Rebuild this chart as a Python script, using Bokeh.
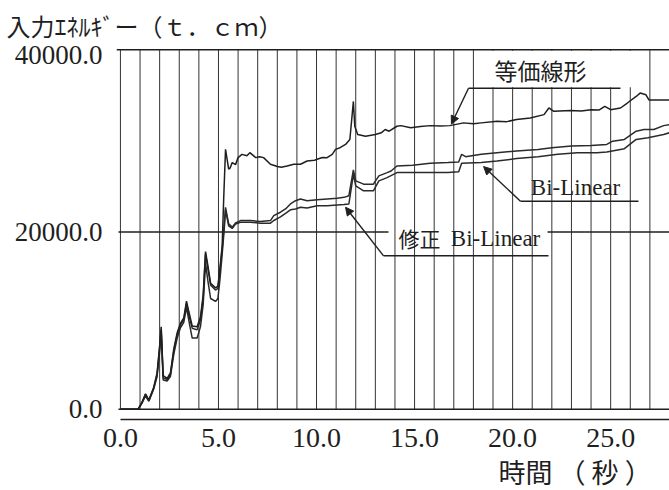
from bokeh.plotting import figure
from bokeh.models import Label, Arrow, NormalHead, FixedTicker, NumeralTickFormatter, Title
from bokeh.embed import file_html
from bokeh.resources import INLINE

# ---------------- data ----------------
time_eq = [0.0, 0.9, 1.1, 1.28, 1.45, 1.7, 1.87, 2.0, 2.08, 2.18, 2.38, 2.55, 2.72, 2.89, 3.06, 3.23,
           3.37, 3.49, 3.66, 3.91, 4.08, 4.22, 4.34, 4.46, 4.6, 4.85, 4.97, 5.07, 5.19, 5.27, 5.36,
           5.52, 5.6, 5.7, 5.87, 6.0, 6.2, 6.45, 6.6, 6.9, 7.1, 7.3, 7.65, 8.0, 8.2, 8.5, 8.84, 9.18,
           9.52, 9.9, 10.03, 10.3, 10.54, 10.8, 10.97, 11.2, 11.48, 11.7, 11.88, 11.95, 12.1, 12.5,
           13.0, 13.3, 13.5, 13.7, 14.1, 14.3, 14.8, 15.3, 15.8, 16.3, 16.8, 17.5, 18.0, 18.4, 19.2,
           19.7, 20.2, 20.9, 21.6, 21.85, 22.1, 22.96, 23.5, 24.0, 24.4, 24.7, 25.0, 25.5, 25.85,
           26.3, 26.5, 26.8, 26.95, 27.5, 28.0]
energy_eq = [0, 0, 800, 1750, 1050, 2500, 4100, 7200, 9300, 3800, 3500, 4100, 6800, 8600, 9700, 10300,
             12200, 11000, 9400, 9300, 10400, 12900, 17800, 16200, 14200, 13700, 13900, 15800, 18500,
             24000, 29320, 27080, 27240, 27830, 27600, 28390, 28760, 28600, 28950, 28390, 28500, 28390,
             27640, 27380, 27300, 27450, 27640, 27640, 28010, 28100, 28200, 28400, 28390, 28760, 29320,
             29510, 29880, 30440, 34730, 31930, 31000, 30810, 31000, 31190, 31560, 31370, 31930, 32000,
             31750, 31900, 32000, 31950, 32000, 32310, 32200, 32310, 32490, 32450, 32680, 32870, 33240,
             33990, 33610, 33720, 33650, 33800, 33750, 34170, 33800, 33990, 34550, 35290, 35670, 35480,
             34900, 34900, 34900]

time_bl = [0.0, 0.9, 1.1, 1.28, 1.45, 1.7, 1.87, 2.0, 2.08, 2.18, 2.38, 2.55, 2.72, 2.89, 3.06, 3.23,
           3.37, 3.49, 3.66, 3.91, 4.08, 4.22, 4.34, 4.46, 4.6, 4.85, 4.97, 5.07, 5.19,
           5.3, 5.36, 5.52, 5.7, 5.87, 6.12, 6.63, 7.14, 7.65, 7.82, 8.16, 8.42, 8.67, 8.93, 9.18,
           9.52, 10.03, 10.54, 11.05, 11.4, 11.65, 11.88, 12.0, 12.4, 12.9, 13.18, 13.6, 13.8, 14.1,
           14.9, 15.8, 16.7, 17.25, 17.4, 17.6, 18.4, 19.2, 20.2, 21.3, 22.0, 23.0, 24.0, 24.8, 25.1,
           25.7, 26.3, 26.7, 27.2, 27.7, 28.0]
energy_bl = [0, 0, 750, 1680, 975, 2430, 3920, 6900, 8960, 3550, 3360, 3920, 6540, 8400, 9520, 10080,
             11950, 10640, 9150, 8960, 10080, 12510, 17550, 15870, 14000, 13450, 13630, 15540, 18100,
             21000, 22790, 20920, 20550, 21030, 21290, 21290, 21180, 21290, 21850, 22230, 22600, 23160,
             23530, 23720, 23530, 23640, 23720, 23800, 23910, 24090, 27000, 25770, 25400, 25400, 26330,
             26700, 26880, 27450, 27530, 27750, 27830, 27900, 28760, 28500, 28760, 28950, 29130, 29320,
             29510, 29690, 29770, 29880, 30250, 30440, 31370, 31560, 31560, 32000, 32100]

time_mbl = [0.0, 0.9, 1.1, 1.28, 1.45, 1.7, 1.87, 2.0, 2.08, 2.18, 2.38, 2.55, 2.72, 2.89, 3.06, 3.23,
            3.37, 3.49, 3.66, 3.91, 4.08, 4.22, 4.34, 4.46, 4.6, 4.85, 4.97, 5.07, 5.19,
            5.3, 5.36, 5.52, 5.7, 5.87, 6.12, 6.63, 7.14, 7.65, 7.82, 8.16, 8.42, 8.67, 8.93, 9.18,
            9.52, 10.03, 10.54, 11.05, 11.4, 11.65, 11.88, 12.0, 12.4, 12.9, 13.18, 13.6, 14.1, 14.9,
            15.8, 16.7, 17.25, 17.4, 18.4, 19.2, 20.2, 21.3, 22.3, 23.3, 24.3, 24.8, 25.7, 26.3, 26.9,
            27.7, 28.0]
energy_mbl = [0, 0, 700, 1500, 900, 2300, 3700, 6500, 8600, 3300, 3200, 3700, 6200, 8000, 9200, 9800,
              11500, 10000, 8030, 8030, 9300, 11800, 16500, 14500, 12500, 12170, 12500, 14500, 17500,
              20500, 22500, 20700, 20400, 20900, 21100, 21100, 21000, 21000, 21300, 21700, 22100, 22500,
              22600, 22790, 22700, 22970, 22970, 23050, 23100, 23160, 26500, 25210, 24650, 24650, 25770,
              26140, 26700, 26700, 26700, 26700, 26800, 27750, 27830, 28010, 28280, 28500, 28760, 28950,
              28950, 29020, 29400, 30440, 30630, 31000, 31200]

grid_seconds = list(range(0, 29))
x_ticks = [0, 5, 10, 15, 20, 25]
y_ticks = [0, 20000, 40000]
y_top_line = 40550

title_text = "入力ｴﾈﾙｷﾞー（ｔ．ｃｍ）"
x_title_text = "時間 （ 秒 ）"
label_eq = "等価線形"
label_bl = "Bi-Linear"
label_mod = "修正"

INK = "#1f1f1f"
GRID = "#333333"

# ---------------- figure ----------------
p = figure(width=669, height=490, x_range=(-0.2, 28.0), y_range=(-1150, 40700),
           output_backend="svg", toolbar_location=None,
           min_border_left=116, min_border_right=0, min_border_top=48, min_border_bottom=68)
p.outline_line_color = None
p.background_fill_color = "white"
p.border_fill_color = "white"
p.xgrid.visible = False
p.ygrid.visible = False

p.title.text = title_text
p.title.align = "left"
p.title.offset = -110
p.title.text_font = "Noto Sans CJK JP"
p.title.text_font_size = "24px"
p.title.text_font_style = "normal"
p.title.text_color = INK
p.title.standoff = 11

# axes
xa = p.xaxis[0]
xa.ticker = FixedTicker(ticks=x_ticks)
xa.formatter = NumeralTickFormatter(format="0.0")
xa.bounds = (0, 28)
xa.axis_line_color = INK
xa.axis_line_width = 1.5
xa.major_tick_line_color = None
xa.minor_tick_line_color = None
xa.major_label_text_font = "Liberation Serif"
xa.major_label_text_font_size = "28px"
xa.major_label_text_color = INK
xa.major_label_standoff = 3

ya = p.yaxis[0]
ya.ticker = FixedTicker(ticks=y_ticks)
ya.formatter = NumeralTickFormatter(format="0.0")
ya.axis_line_color = None
ya.major_tick_line_color = None
ya.minor_tick_line_color = None
ya.major_label_text_font = "Liberation Serif"
ya.major_label_text_font_size = "27px"
ya.major_label_text_color = INK
ya.major_label_standoff = 8

xt = Title(text=x_title_text, align="left", offset=382, text_font="Noto Sans CJK JP",
           text_font_size="27px", text_font_style="normal", text_color=INK, standoff=0)
p.add_layout(xt, "below")

# vertical grid (one line per second)
p.segment(x0=grid_seconds, y0=[0] * len(grid_seconds), x1=grid_seconds,
          y1=[y_top_line] * len(grid_seconds), line_color=GRID, line_width=1)

# white box behind the 等価線形 label
p.quad(left=[18.47], right=[26.42], bottom=[36330], top=[40450],
       fill_color="white", line_color=None)

# horizontal lines
p.line([-0.1, 28.0], [0, 0], line_color=INK, line_width=1.5)
p.line([-0.2, 28.0], [y_top_line, y_top_line], line_color=INK, line_width=1.5)
p.line([-0.1, 13.67], [20000, 20000], line_color=INK, line_width=1.3)
p.line([21.78, 28.0], [20000, 20000], line_color=INK, line_width=1.3)

# curves
p.line(time_mbl, energy_mbl, line_color="#2a2a2a", line_width=1.5)
p.line(time_bl, energy_bl, line_color="#2a2a2a", line_width=1.5)
p.line(time_eq, energy_eq, line_color=INK, line_width=1.5)

# leaders
p.line([17.75, 25.50], [36220, 36220], line_color=INK, line_width=1.5)
p.line([20.40, 26.42], [23470, 23470], line_color=INK, line_width=1.5)
p.line([13.42, 21.83], [17310, 17310], line_color=INK, line_width=1.5)

for xs, ys, xe, ye in [(17.75, 36220, 16.88, 32180),
                       (20.40, 23470, 18.52, 27380),
                       (13.42, 17310, 11.48, 22790)]:
    p.add_layout(Arrow(end=NormalHead(size=8, fill_color=INK, line_color=INK),
                       x_start=xs, y_start=ys, x_end=xe, y_end=ye,
                       line_color=INK, line_width=1.4))

p.add_layout(Label(x=21.42, y=38240, text=label_eq, text_font="Noto Sans CJK JP",
                   text_font_size="23px", text_align="center", text_baseline="middle",
                   text_color=INK))
p.add_layout(Label(x=23.21, y=25030, text=label_bl, text_font="Liberation Serif",
                   text_font_size="23px", text_align="center", text_baseline="middle",
                   text_color=INK))
p.add_layout(Label(x=15.25, y=19320, text=label_mod, text_font="Noto Sans CJK JP",
                   text_font_size="21px", text_align="center", text_baseline="middle",
                   text_color=INK))
p.add_layout(Label(x=19.13, y=19320, text=label_bl, text_font="Liberation Serif",
                   text_font_size="23px", text_align="center", text_baseline="middle",
                   text_color=INK))

open("out.html", "w").write(file_html(p, INLINE))
